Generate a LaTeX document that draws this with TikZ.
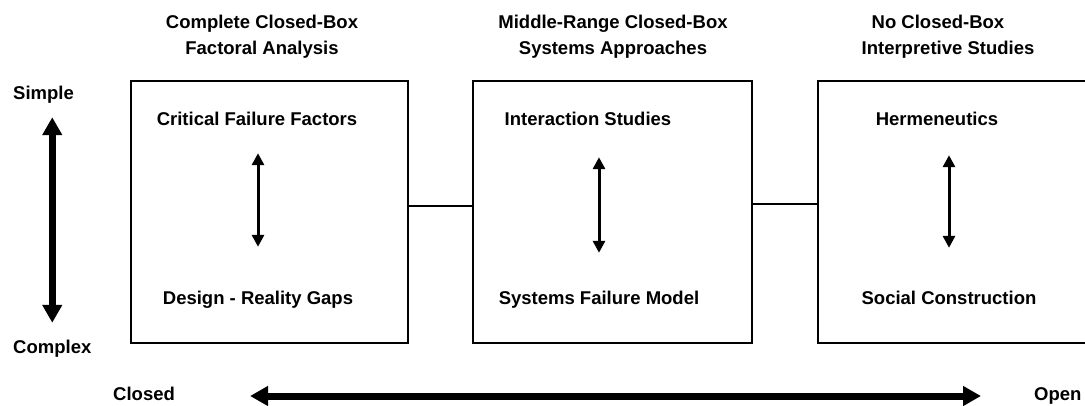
\documentclass[tikz,border=0pt]{standalone}
\usepackage{fontspec}
\setmainfont{Liberation Sans}
\usetikzlibrary{arrows.meta}

\begin{document}
\begin{tikzpicture}[x=1pt, y=-1pt,
    every node/.style={font=\fontsize{18.5}{26}\selectfont\bfseries, inner sep=0pt},
    txt/.style={text height=13pt, text depth=4pt},
    panel/.style={draw, line width=1.5pt, minimum height=262pt},
    link/.style={line width=1.5pt},
    thinarrow/.style={line width=3pt, {Triangle[length=12pt,width=12pt]}-{Triangle[length=12pt,width=12pt]}},
    thickarrow/.style={line width=7pt, {Triangle[length=18pt,width=19pt]}-{Triangle[length=18pt,width=19pt]}}]
    \useasboundingbox (0,0) rectangle (1085,405);
    % the three panels
    \node[panel, minimum width=277pt] (box1) at (269.5,212) {};
    \node[panel, minimum width=279pt] (box2) at (612.5,212) {};
    \node[panel, minimum width=280pt] (box3) at (958,212) {};
    \draw[link] ([yshift=6pt]box1.east) -- ([yshift=6pt]box2.west);
    \draw[link] ([yshift=8pt]box2.east) -- ([yshift=8pt]box3.west);
    % headings
    \node[align=center] (head1) at (262,37) {Complete Closed-Box\\Factoral Analysis};
    \node[align=center] (head2) at (613,37) {Middle-Range Closed-Box\\Systems Approaches};
    \node[align=center] (head3) at (948,37) {No Closed-Box\kern20pt\\Interpretive Studies};
    % panel contents
    \node[txt] (cff) at (257,121) {Critical Failure Factors};
    \node[txt] (drg) at (258,300) {Design - Reality Gaps};
    \node[txt] (ifs) at (588,121) {Interaction Studies};
    \node[txt] (sfm) at (599,300) {Systems Failure Model};
    \node[txt] (herm) at (937,121) {Hermeneutics};
    \node[txt] (socc) at (949,300) {Social Construction};
    \draw[thinarrow, shorten <=23.5pt, shorten >=44.5pt] (cff.south -| drg) -- (drg.north);
    \draw[thinarrow, shorten <=27.5pt, shorten >=38.5pt] (ifs.south -| sfm) -- (sfm.north);
    \draw[thinarrow, shorten <=25.5pt, shorten >=43.5pt] (herm.south -| socc) -- (socc.north);
    % axes
    \node[txt, anchor=west] (simple) at (13,95) {Simple};
    \node[txt, anchor=west] (complex) at (13,349) {Complex};
    \node[txt, anchor=west] (closed) at (113,396) {Closed};
    \node[txt, anchor=west] (open) at (1034,396) {Open};
    \draw[thickarrow, shorten <=13.5pt, shorten >=17.5pt] (simple.south -| complex) -- (complex.north);
    \draw[thickarrow, shorten <=75pt, shorten >=53pt] (closed) -- (open);
\end{tikzpicture}
\end{document}
